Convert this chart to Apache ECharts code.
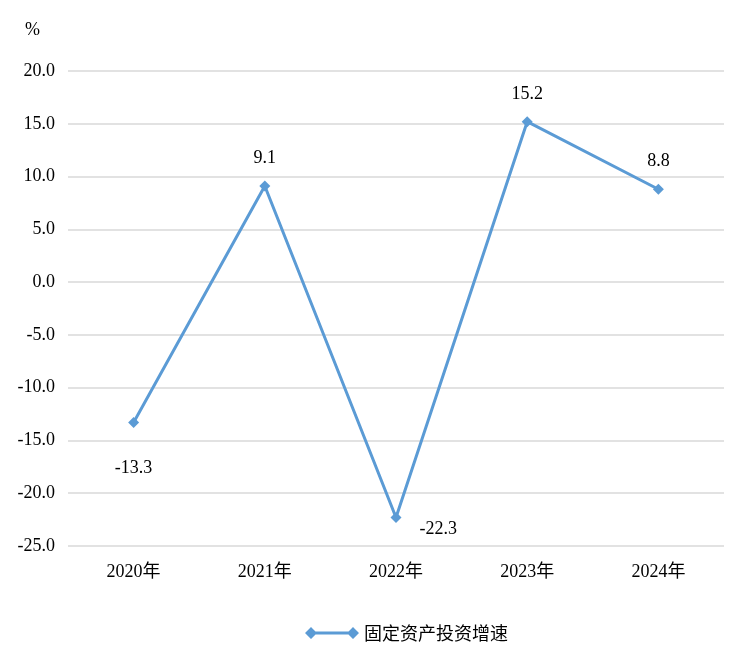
<!DOCTYPE html>
<html>
<head>
<meta charset="utf-8">
<script src="https://cdn.jsdelivr.net/npm/echarts@6/dist/echarts.min.js"></script>
<style>
  html, body { margin: 0; padding: 0; background: #fff; }
  #chart { width: 751px; height: 658px; }
</style>
</head>
<body>
<div id="chart"></div>
<script>
  var years = ['2020年', '2021年', '2022年', '2023年', '2024年'];
  var growth = [-13.3, 9.1, -22.3, 15.2, 8.8];
  var labelPos = ['bottom', 'top', 'right', 'top', 'top'];
  var seriesName = '固定资产投资增速';

  var serif = '"Liberation Serif", "Times New Roman", "Noto Sans CJK SC", serif';

  var chart = echarts.init(document.getElementById('chart'));
  var points = growth.map(function (v, i) {
    var p = labelPos[i];
    return {
      value: v,
      label: {
        position: p,
        distance: p === 'right' ? 18 : (p === 'bottom' ? 31 : 13),
        offset: p === 'right' ? [0, 12] : [0, 0]
      }
    };
  });

  chart.setOption({
    animation: false,
    grid: { left: 68, right: 27, top: 71, bottom: 112 },
    legend: {
      top: 619,
      left: 300,
      data: [{ name: seriesName, icon: 'path://M0,6 L6,0 L12,6 L6,12 Z M6,4.5 L48,4.5 L48,7.5 L6,7.5 Z M42,6 L48,0 L54,6 L48,12 Z' }],
      itemWidth: 54,
      itemHeight: 12,
      textStyle: { fontSize: 18, color: '#000', fontFamily: '"Noto Sans CJK SC", serif' }
    },
    xAxis: {
      type: 'category',
      data: years,
      axisLine: { show: false },
      axisTick: { show: false },
      axisLabel: { fontSize: 18, color: '#000', fontFamily: serif, margin: 17 }
    },
    yAxis: {
      type: 'value',
      name: '%',
      nameLocation: 'end',
      nameGap: 32,
      nameTextStyle: { fontSize: 18, color: '#000', fontFamily: serif, align: 'right', padding: [0, 28, 0, 0] },
      min: -25,
      max: 20,
      interval: 5,
      axisLine: { show: false },
      axisTick: { show: false },
      axisLabel: {
        fontSize: 18, color: '#000', fontFamily: serif, margin: 13,
        formatter: function (v) { return v.toFixed(1); }
      },
      splitLine: { lineStyle: { color: '#d9d9d9', width: 1.5 } }
    },
    series: [{
      name: seriesName,
      type: 'line',
      data: points,
      color: '#5b9bd5',
      symbol: 'diamond',
      symbolSize: 11,
      lineStyle: { width: 3, color: '#5b9bd5' },
      itemStyle: { color: '#5b9bd5' },
      label: {
        show: true,
        fontSize: 18,
        color: '#000',
        fontFamily: serif,
        formatter: function (p) { return p.value.toFixed(1); }
      }
    }]
  });
</script>
</body>
</html>
